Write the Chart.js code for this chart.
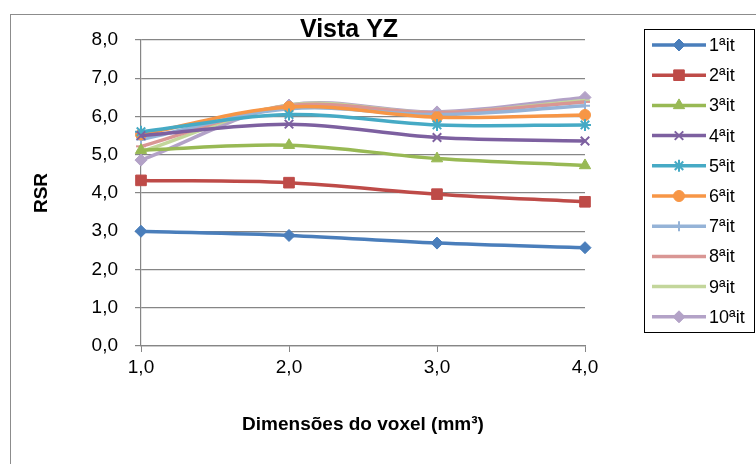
<!DOCTYPE html>
<html>
<head>
<meta charset="utf-8">
<script src="https://cdn.jsdelivr.net/npm/chart.js@4.4.1/dist/chart.umd.min.js"></script>
<style>
  html, body { margin: 0; padding: 0; background: #fff; }
  #wrap { width: 756px; height: 464px; }
</style>
</head>
<body>
<div id="wrap"><canvas id="rsrChart" width="756" height="464"></canvas></div>
<script>
// voxel sizes (x categories) and y tick labels
const voxelLabels = ['1,0', '2,0', '3,0', '4,0'];
const yTickLabels = ['0,0', '1,0', '2,0', '3,0', '4,0', '5,0', '6,0', '7,0', '8,0'];

// RSR per iteration
const it1 = [3.00, 2.89, 2.69, 2.57];
const it2 = [4.33, 4.27, 3.97, 3.77];
const it3 = [5.12, 5.25, 4.90, 4.72];
const it4 = [5.50, 5.80, 5.45, 5.36];
const it5 = [5.60, 6.05, 5.78, 5.78];
const it6 = [5.53, 6.25, 5.98, 6.04];
const it7 = [5.40, 6.20, 6.05, 6.28];
const it8 = [5.22, 6.28, 6.10, 6.38];
const it9 = [5.08, 6.30, 6.10, 6.42];
const it10 = [4.86, 6.30, 6.12, 6.50];

const FONT = "'Liberation Sans', Arial, sans-serif";
const GRID = '#868686';

function series(label, data, color, style, radius, bw) {
  return {
    label: label,
    data: data,
    borderColor: color,
    backgroundColor: color,
    borderWidth: 3.5,
    pointStyle: style,
    pointRadius: radius,
    pointHoverRadius: radius,
    pointBackgroundColor: color,
    pointBorderColor: color,
    pointBorderWidth: bw,
    tension: 0.35,
    clip: false
  };
}

const datasets = [
  series('1ªit', it1, '#4a7ebb', 'rectRot', 6, 1),
  series('2ªit', it2, '#be4b48', 'rect', 7.5, 1),
  series('3ªit', it3, '#98b954', 'triangle', 6.5, 1),
  series('4ªit', it4, '#7d60a0', 'crossRot', 6, 2),
  series('5ªit', it5, '#46aac5', 'star', 6, 2),
  series('6ªit', it6, '#f79646', 'circle', 5.5, 1),
  series('7ªit', it7, '#95b3d7', 'cross', 5, 2),
  series('8ªit', it8, '#d99694', 'line', 5, 2),
  series('9ªit', it9, '#c3d69b', 'line', 5, 2),
  series('10ªit', it10, '#b3a2c7', 'rectRot', 6, 1)
];

// grey frame round the chart, like the spreadsheet chart area
const framePlugin = {
  id: 'frame',
  beforeDraw(chart) {
    const ctx = chart.ctx;
    ctx.save();
    ctx.fillStyle = '#fff';
    ctx.fillRect(0, 0, chart.width, chart.height);
    ctx.strokeStyle = '#8c8c8c';
    ctx.lineWidth = 1;
    ctx.strokeRect(10.5, 14.5, 800, 500);
    ctx.restore();
  }
};

// boxed legend on the right, line + marker per series
const boxLegend = {
  id: 'boxLegend',
  afterDraw(chart) {
    const ctx = chart.ctx;
    const x0 = 644, y0 = 29, w = 110, h = 303;
    ctx.save();
    ctx.strokeStyle = '#000';
    ctx.lineWidth = 1;
    ctx.strokeRect(x0 + 0.5, y0 + 0.5, w, h);
    ctx.font = '18px ' + FONT;
    ctx.textBaseline = 'middle';
    chart.data.datasets.forEach((ds, i) => {
      const y = 45 + i * 30.2;
      ctx.strokeStyle = ds.borderColor;
      ctx.lineWidth = ds.borderWidth;
      ctx.beginPath();
      ctx.moveTo(652, y);
      ctx.lineTo(706, y);
      ctx.stroke();
      if (ds.pointStyle !== 'line' && Chart.helpers && Chart.helpers.drawPoint) {
        ctx.fillStyle = ds.pointBackgroundColor;
        ctx.strokeStyle = ds.pointBorderColor;
        ctx.lineWidth = ds.pointBorderWidth;
        Chart.helpers.drawPoint(ctx, {
          pointStyle: ds.pointStyle,
          radius: ds.pointRadius,
          rotation: 0,
          borderWidth: ds.pointBorderWidth
        }, 679, y);
      }
      ctx.fillStyle = '#000';
      ctx.fillText(ds.label, 709, y + 1);
    });
    ctx.restore();
  }
};

new Chart(document.getElementById('rsrChart'), {
  type: 'line',
  data: { labels: voxelLabels, datasets: datasets },
  options: {
    responsive: false,
    animation: false,
    events: [],
    layout: { padding: { left: 10, right: 68, top: 0, bottom: 0 } },
    plugins: {
      legend: { display: false },
      tooltip: { enabled: false },
      title: {
        display: true,
        text: 'Vista YZ',
        color: '#000',
        font: { family: FONT, size: 25, weight: 'bold' },
        padding: { top: 15, bottom: -5 }
      }
    },
    scales: {
      x: {
        type: 'category',
        offset: false,
        grid: { drawOnChartArea: false, drawTicks: true, tickLength: 6, color: GRID },
        border: { display: true, color: GRID, width: 1.2 },
        ticks: { color: '#000', padding: 4, font: { family: FONT, size: 19 } },
        title: {
          display: true,
          text: 'Dimensões do voxel (mm³)',
          color: '#000',
          font: { family: FONT, size: 19, weight: 'bold' },
          padding: { top: 0, bottom: 28 }
        },
        afterFit(scale) { scale.height = 118; }
      },
      y: {
        min: 0,
        max: 8,
        ticks: {
          stepSize: 1,
          color: '#000',
          padding: 17,
          font: { family: FONT, size: 19 },
          callback: (v, i) => yTickLabels[i]
        },
        grid: { color: GRID, tickLength: 6, lineWidth: 1.2 },
        border: { display: true, color: GRID, width: 1.2 },
        title: {
          display: true,
          text: 'RSR',
          color: '#000',
          font: { family: FONT, size: 19, weight: 'bold' },
          padding: { top: 20, bottom: 0 }
        },
        afterFit(scale) { scale.width = 131; }
      },
      // empty spacer between plot and legend
      spacer: {
        type: 'linear',
        position: 'right',
        display: true,
        grid: { display: false },
        border: { display: false },
        ticks: { display: false },
        afterFit(scale) { scale.width = 103; }
      }
    }
  },
  plugins: [framePlugin, boxLegend]
});
</script>
</body>
</html>
